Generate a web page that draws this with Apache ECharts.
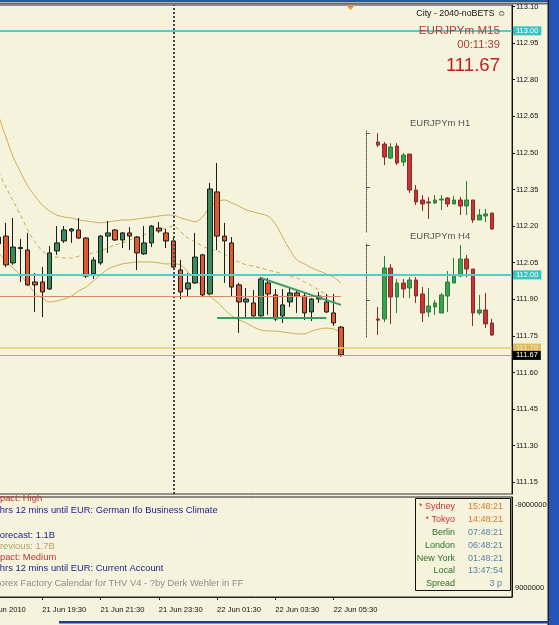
<!DOCTYPE html>
<html>
<head>
<meta charset="utf-8">
<script src="https://cdn.jsdelivr.net/npm/echarts@6/dist/echarts.min.js"></script>
<style>
  html, body { margin: 0; padding: 0; background: #f6f3dd; }
  #chart { width: 559px; height: 625px; }
</style>
</head>
<body>
<div id="chart"></div>
<script>
const FONT = '"Liberation Sans", Arial, sans-serif';
const pad = n => (n < 10 ? '0' : '') + n;

// 15-minute slots from 21 Jun 17:30 (first bar drawn is 18:00, last is 22 Jun 05:45)
const cats = [];
for (let k = 0; k < 73; k++) {
  const t = 17 * 60 + 30 + k * 15;
  const m = t % 1440;
  cats.push((t >= 1440 ? '22' : '21') + ' Jun ' + pad(Math.floor(m / 60)) + ':' + pad(m % 60));
}
const xTickLabels = ['21 Jun 2010', '21 Jun 19:30', '21 Jun 21:30', '21 Jun 23:30', '22 Jun 01:30', '22 Jun 03:30', '22 Jun 05:30'];
const yTickValues = [111.15, 111.30, 111.45, 111.60, 111.75, 111.90, 112.05, 112.20, 112.35, 112.50, 112.65, 112.80, 112.95, 113.10];

// EURJPYm M15, [open, close, low, high]
const m15 = [
  [112.155, 112.127, 112.110, 112.176], [112.159, 112.041, 112.032, 112.213], [112.049, 112.114, 112.041, 112.233],
  [112.108, 112.112, 111.971, 112.147], [112.102, 111.959, 111.955, 112.172], [111.971, 111.959, 111.848, 112.008],
  [111.971, 111.930, 111.827, 112.032], [111.942, 112.090, 111.938, 112.118], [112.098, 112.131, 112.082, 112.200],
  [112.139, 112.184, 112.131, 112.200], [112.180, 112.188, 112.131, 112.192], [112.184, 112.151, 112.147, 112.233],
  [112.151, 111.995, 111.987, 112.155], [112.004, 112.061, 111.983, 112.073], [112.049, 112.159, 112.041, 112.163],
  [112.159, 112.172, 112.090, 112.221], [112.184, 112.143, 112.139, 112.188], [112.143, 112.172, 112.110, 112.176],
  [112.172, 112.159, 112.102, 112.196], [112.155, 112.090, 112.020, 112.159], [112.086, 112.131, 112.082, 112.200],
  [112.131, 112.200, 112.114, 112.204], [112.192, 112.180, 112.172, 112.217], [112.172, 112.139, 112.110, 112.188],
  [112.139, 112.032, 112.020, 112.151], [112.020, 111.930, 111.901, 112.061], [111.942, 111.967, 111.909, 112.008],
  [111.967, 112.073, 111.963, 112.172], [112.082, 111.918, 111.913, 112.086], [111.922, 112.352, 111.918, 112.377],
  [112.340, 112.159, 112.102, 112.459], [112.159, 112.139, 111.967, 112.213], [112.131, 111.950, 111.909, 112.155],
  [111.959, 111.889, 111.762, 111.967], [111.889, 111.901, 111.819, 111.946], [111.885, 111.832, 111.828, 111.938],
  [111.832, 111.983, 111.828, 111.991], [111.967, 111.922, 111.836, 111.987], [111.918, 111.819, 111.811, 111.942],
  [111.832, 111.877, 111.803, 111.942], [111.889, 111.926, 111.868, 111.950], [111.926, 111.913, 111.844, 111.938],
  [111.913, 111.844, 111.815, 111.926], [111.848, 111.901, 111.811, 111.905], [111.913, 111.901, 111.885, 111.930],
  [111.889, 111.848, 111.844, 111.922], [111.844, 111.803, 111.791, 111.922], [111.786, 111.672, 111.664, 111.790]
];

// bands, one value per M15 bar
const bandUpper = [112.651, 112.565, 112.483, 112.422, 112.364, 112.323, 112.286, 112.262, 112.245, 112.237, 112.233, 112.225,
  112.221, 112.217, 112.213, 112.217, 112.221, 112.225, 112.225, 112.229, 112.233, 112.237, 112.241, 112.245,
  112.245, 112.233, 112.225, 112.217, 112.237, 112.278, 112.299, 112.307, 112.295, 112.282, 112.266, 112.258,
  112.250, 112.241, 112.209, 112.155, 112.102, 112.061, 112.045, 112.028, 112.016, 112.004, 111.991, 111.967];
const bandMiddle = [112.422, 112.360, 112.303, 112.245, 112.184, 112.135, 112.098, 112.077, 112.073, 112.069, 112.069, 112.077,
  112.082, 112.090, 112.098, 112.110, 112.123, 112.131, 112.143, 112.155, 112.164, 112.176, 112.184, 112.192,
  112.200, 112.176, 112.151, 112.135, 112.118, 112.106, 112.098, 112.086, 112.065, 112.053, 112.041, 112.036,
  112.028, 112.020, 112.012, 112.004, 111.995, 111.987, 111.971, 111.955, 111.938, 111.918, 111.897, 111.877];
const bandLower = [112.090, 112.057, 112.028, 111.999, 111.963, 111.926, 111.905, 111.889, 111.893, 111.901, 111.913, 111.934,
  111.950, 111.975, 111.999, 112.024, 112.036, 112.045, 112.049, 112.053, 112.053, 112.053, 112.049, 112.045,
  112.045, 112.041, 112.012, 111.983, 111.950, 111.913, 111.889, 111.860, 111.832, 111.815, 111.803, 111.786,
  111.774, 111.770, 111.770, 111.766, 111.762, 111.758, 111.758, 111.770, 111.778, 111.782, 111.778, 111.766];

// mini charts, [open, close, low, high]
const h1 = [
  [113.101, 113.052, 113.019, 113.249], [113.068, 112.854, 112.723, 113.101], [112.838, 113.019, 112.821, 113.084],
  [113.035, 112.756, 112.723, 113.084], [112.772, 112.887, 112.706, 112.920], [112.904, 112.311, 112.262, 112.904],
  [112.311, 112.114, 112.065, 112.394], [112.147, 112.081, 111.966, 112.229], [112.114, 112.098, 111.834, 112.196],
  [112.098, 112.147, 112.081, 112.229], [112.147, 112.163, 111.982, 112.229], [112.180, 112.081, 112.032, 112.196],
  [112.081, 112.147, 112.081, 112.213], [112.147, 112.048, 111.900, 112.196], [112.048, 112.147, 111.900, 112.459],
  [112.147, 111.818, 111.769, 112.147], [111.818, 111.900, 111.818, 111.999], [111.884, 111.917, 111.785, 111.999],
  [111.933, 111.670, 111.654, 111.933]
];
const h4 = [
  [111.972, 111.950, 111.670, 112.198], [111.972, 112.934, 111.915, 113.161], [112.934, 112.387, 111.878, 113.010],
  [112.387, 112.651, 112.085, 112.727], [112.651, 112.538, 112.368, 112.727], [112.557, 112.708, 112.368, 112.764],
  [112.708, 112.406, 112.274, 112.764], [112.444, 112.085, 111.915, 112.576], [112.104, 112.217, 112.010, 112.557],
  [112.198, 112.274, 112.047, 112.330], [112.085, 112.425, 112.085, 112.462], [112.406, 112.670, 112.104, 112.878],
  [112.651, 112.802, 112.651, 113.123], [112.783, 113.104, 112.764, 113.368], [113.104, 112.915, 112.764, 113.179],
  [112.915, 112.085, 111.840, 112.915], [112.085, 112.142, 112.047, 112.425], [112.142, 111.878, 111.802, 112.462],
  [111.896, 111.670, 111.651, 111.972]
];
const miniCats = h1.map((_, i) => i + 1);

const subLines = [
  ['Impact: High', '#c43434', -10.5, 498],
  ['2 hrs 12 mins until EUR: German Ifo Business Climate', '#1c1c88', -8, 510],
  ['Forecast: 1.1B', '#1c1c88', -6, 535],
  ['Previous: 1.7B', '#b4a266', -6.3, 546],
  ['Impact: Medium', '#c43434', -10.5, 557],
  ['2 hrs 12 mins until EUR: Current Account', '#1c1c88', -8, 568],
  ['Forex Factory Calendar for THV V4 - ?by Derk Wehler in FF', '#8c8c8c', -6, 583]
];
const clockNames = ['* Sydney', '* Tokyo', 'Berlin', 'London', 'New York', 'Local', 'Spread'];
const clockTimes = ['15:48:21', '14:48:21', '07:48:21', '06:48:21', '01:48:21', '13:47:54', '3 p'];

const padBars = arr => ['-', '-'].concat(arr, new Array(cats.length - 2 - arr.length).fill('-'));
const showTick = idx => idx % 8 === 0 && idx / 8 < xTickLabels.length;

const priceTag = (txt, bg, fg) => ({
  show: true, position: 'end', formatter: txt, backgroundColor: bg, color: fg,
  fontSize: 7.5, fontFamily: FONT, padding: [1, 3, 0, 3], distance: 1
});

const gfx = [
  { type: 'rect', shape: { x: 0, y: 0, width: 559, height: 2 }, style: { fill: '#2a56a6' } },
  { type: 'rect', shape: { x: 0, y: 2.5, width: 559, height: 2 }, style: { fill: '#6e6e6e' } },
  { type: 'rect', shape: { x: 549, y: 0, width: 10, height: 625 }, style: { fill: '#2653b8' } },
  { type: 'rect', shape: { x: 547.5, y: 0, width: 1.5, height: 625 }, style: { fill: '#222' } },
  { type: 'rect', shape: { x: 59, y: 621, width: 490, height: 2.5 }, style: { fill: '#203a8c' } },
  { type: 'polygon', shape: { points: [[346, 5], [355, 5], [350.5, 10]] }, style: { fill: '#d8a030' } },
  { type: 'text', z: 100, style: { text: 'City - 2040-noBETS \u263A', x: 506, y: 14, textAlign: 'right', textVerticalAlign: 'middle', font: '8.8px ' + FONT, fill: '#111' } },
  { type: 'text', z: 100, style: { text: 'EURJPYm M15', x: 500, y: 31, textAlign: 'right', textVerticalAlign: 'middle', font: '11.6px ' + FONT, fill: '#b23a3a' } },
  { type: 'text', z: 100, style: { text: '00:11:39', x: 500, y: 44.5, textAlign: 'right', textVerticalAlign: 'middle', font: '11.2px ' + FONT, fill: '#b23a3a' } },
  { type: 'text', z: 100, style: { text: '111.67', x: 500, y: 66, textAlign: 'right', textVerticalAlign: 'middle', font: '18.6px ' + FONT, fill: '#c02020' } },
  { type: 'rect', z: 50, shape: { x: 415.5, y: 498.5, width: 95, height: 92 }, style: { fill: 'none', stroke: '#111', lineWidth: 1 } }
];
subLines.forEach(l => gfx.push({ type: 'text', z: 100, style: { text: l[0], x: l[2], y: l[3], textVerticalAlign: 'middle', font: '9.4px ' + FONT, fill: l[1] } }));
clockNames.forEach((n, i) => {
  const y = 507 + i * 12.8;
  gfx.push({ type: 'text', z: 100, style: { text: n, x: 455, y: y, textAlign: 'right', textVerticalAlign: 'middle', font: '9px ' + FONT, fill: i < 2 ? '#c43434' : '#2a702a' } });
  gfx.push({ type: 'text', z: 100, style: { text: clockTimes[i], x: i === 6 ? 502 : 468, y: y, textAlign: i === 6 ? 'right' : 'left', textVerticalAlign: 'middle', font: '9px ' + FONT, fill: i < 2 ? '#e0782a' : '#5a84a8' } });
});

const miniAxis = (min, max, ticks, gi) => ({
  type: 'value', gridIndex: gi, min: min, max: max, position: 'left', offset: 9,
  axisLine: { show: true, lineStyle: { color: '#555', type: 'dotted', width: 1 } },
  axisTick: { show: true, inside: true, length: 4, customValues: ticks, lineStyle: { color: '#555' } },
  axisLabel: { show: false }, splitLine: { show: false }
});
const miniCandle = (data, xi, yi) => ({
  type: 'candlestick', xAxisIndex: xi, yAxisIndex: yi, data: data, barWidth: 4,
  itemStyle: { color: '#36a24c', color0: '#c83434', borderColor: '#2c7c3c', borderColor0: '#8e2a2a', borderWidth: 1 }
});
const bandLine = (vals, dashed) => ({
  type: 'line', xAxisIndex: 0, yAxisIndex: 0, data: padBars(vals), showSymbol: false, smooth: 0.3,
  lineStyle: { color: '#cbac58', width: 1, type: dashed ? [4, 3] : 'solid' }, z: 1
});

const option = {
  animation: false,
  backgroundColor: '#f6f3dd',
  textStyle: { fontFamily: FONT },
  title: [
    { text: 'EURJPYm H1', left: 410, top: 118, padding: 0, textStyle: { fontSize: 9.5, fontWeight: 'normal', color: '#555' } },
    { text: 'EURJPYm H4', left: 410, top: 231, padding: 0, textStyle: { fontSize: 9.5, fontWeight: 'normal', color: '#555' } }
  ],
  grid: [
    { left: -19.6, right: 47, top: 5, height: 489, show: true, borderColor: '#333', borderWidth: 1, outerBoundsMode: 'none' },
    { left: -19.6, right: 47, top: 497, height: 100, show: true, borderColor: '#222', borderWidth: 1, outerBoundsMode: 'none' },
    { left: 374.8, width: 120.3, top: 130, height: 102, outerBoundsMode: 'none' },
    { left: 374.8, width: 120.3, top: 243, height: 94, outerBoundsMode: 'none' }
  ],
  xAxis: [
    { type: 'category', gridIndex: 0, data: cats, axisLine: { show: false }, axisTick: { show: false }, axisLabel: { show: false } },
    {
      type: 'category', gridIndex: 1, data: cats, position: 'bottom',
      axisLine: { show: true, onZero: false, lineStyle: { color: '#222' } },
      axisTick: { show: true, alignWithLabel: true, interval: showTick, length: 3, lineStyle: { color: '#222' } },
      axisLabel: { show: true, interval: showTick, align: 'left', margin: 9, fontSize: 7.6, color: '#111',
        formatter: (v, i) => xTickLabels[i / 8] }
    },
    { type: 'category', gridIndex: 2, data: miniCats, show: false },
    { type: 'category', gridIndex: 3, data: miniCats, show: false }
  ],
  yAxis: [
    {
      type: 'value', gridIndex: 0, min: 111.102, max: 113.106, position: 'right',
      axisLine: { show: true, lineStyle: { color: '#111' } },
      axisTick: { show: true, length: 3, customValues: yTickValues, lineStyle: { color: '#111' } },
      axisLabel: { show: true, customValues: yTickValues, margin: 4, fontSize: 7.5, color: '#111', formatter: v => v.toFixed(2) },
      splitLine: { show: false }
    },
    {
      type: 'value', gridIndex: 1, min: -10714000, max: 10930000, inverse: true, position: 'right',
      axisLine: { show: true, lineStyle: { color: '#111' } },
      axisTick: { show: false },
      axisLabel: { show: true, customValues: [-9000000, 9000000], margin: 3, fontSize: 7.5, color: '#111', formatter: v => String(v) },
      splitLine: { show: false }
    },
    miniAxis(111.62, 113.30, [113.25, 112.36], 2),
    miniAxis(111.632, 113.406, [113.37, 112.33], 3)
  ],
  graphic: gfx,
  series: [
    bandLine(bandUpper, false),
    bandLine(bandMiddle, true),
    bandLine(bandLower, false),
    {
      type: 'candlestick', xAxisIndex: 0, yAxisIndex: 0, data: padBars(m15), barWidth: 5,
      itemStyle: { color: '#3a8a5c', color0: '#e2582a', borderColor: '#1c1c1c', borderColor0: '#1c1c1c', borderWidth: 1 },
      markLine: {
        symbol: ['none', 'none'], silent: true,
        data: [
          { yAxis: 113.00, lineStyle: { color: '#5ccaca', width: 2, type: 'solid' }, label: priceTag('113.00', '#3cc2c2', '#ffffff') },
          { yAxis: 112.00, lineStyle: { color: '#5ccaca', width: 2, type: 'solid' }, label: priceTag('112.00', '#3cc2c2', '#ffffff') },
          { yAxis: 111.70, lineStyle: { color: '#e6cc78', width: 1.5, type: 'solid' }, label: priceTag('111.70', '#dcbc5c', '#f8eec0') },
          { yAxis: 111.67, lineStyle: { color: '#c2aa3c', width: 1, type: 'solid' }, label: priceTag('111.67', '#000000', '#ffffff') },
          { xAxis: '22 Jun 00:00', lineStyle: { color: '#4a4a4a', width: 2, type: [2, 2] }, label: { show: false } },
          [{ coord: ['21 Jun 17:30', 111.913], lineStyle: { color: '#d88a68', width: 1, type: 'solid' }, label: { show: false } },
           { coord: ['22 Jun 05:45', 111.913] }],
          [{ coord: ['22 Jun 03:00', 111.987], lineStyle: { color: '#3a9a6a', width: 2, type: 'solid' }, label: { show: false } },
           { coord: ['22 Jun 05:45', 111.877] }],
          [{ coord: ['22 Jun 01:30', 111.825], lineStyle: { color: '#3a9a6a', width: 2, type: 'solid' }, label: { show: false } },
           { coord: ['22 Jun 05:15', 111.825] }]
        ]
      }
    },
    miniCandle(h1, 2, 2),
    miniCandle(h4, 3, 3)
  ]
};

const chart = echarts.init(document.getElementById('chart'));
chart.setOption(option);
</script>
</body>
</html>
